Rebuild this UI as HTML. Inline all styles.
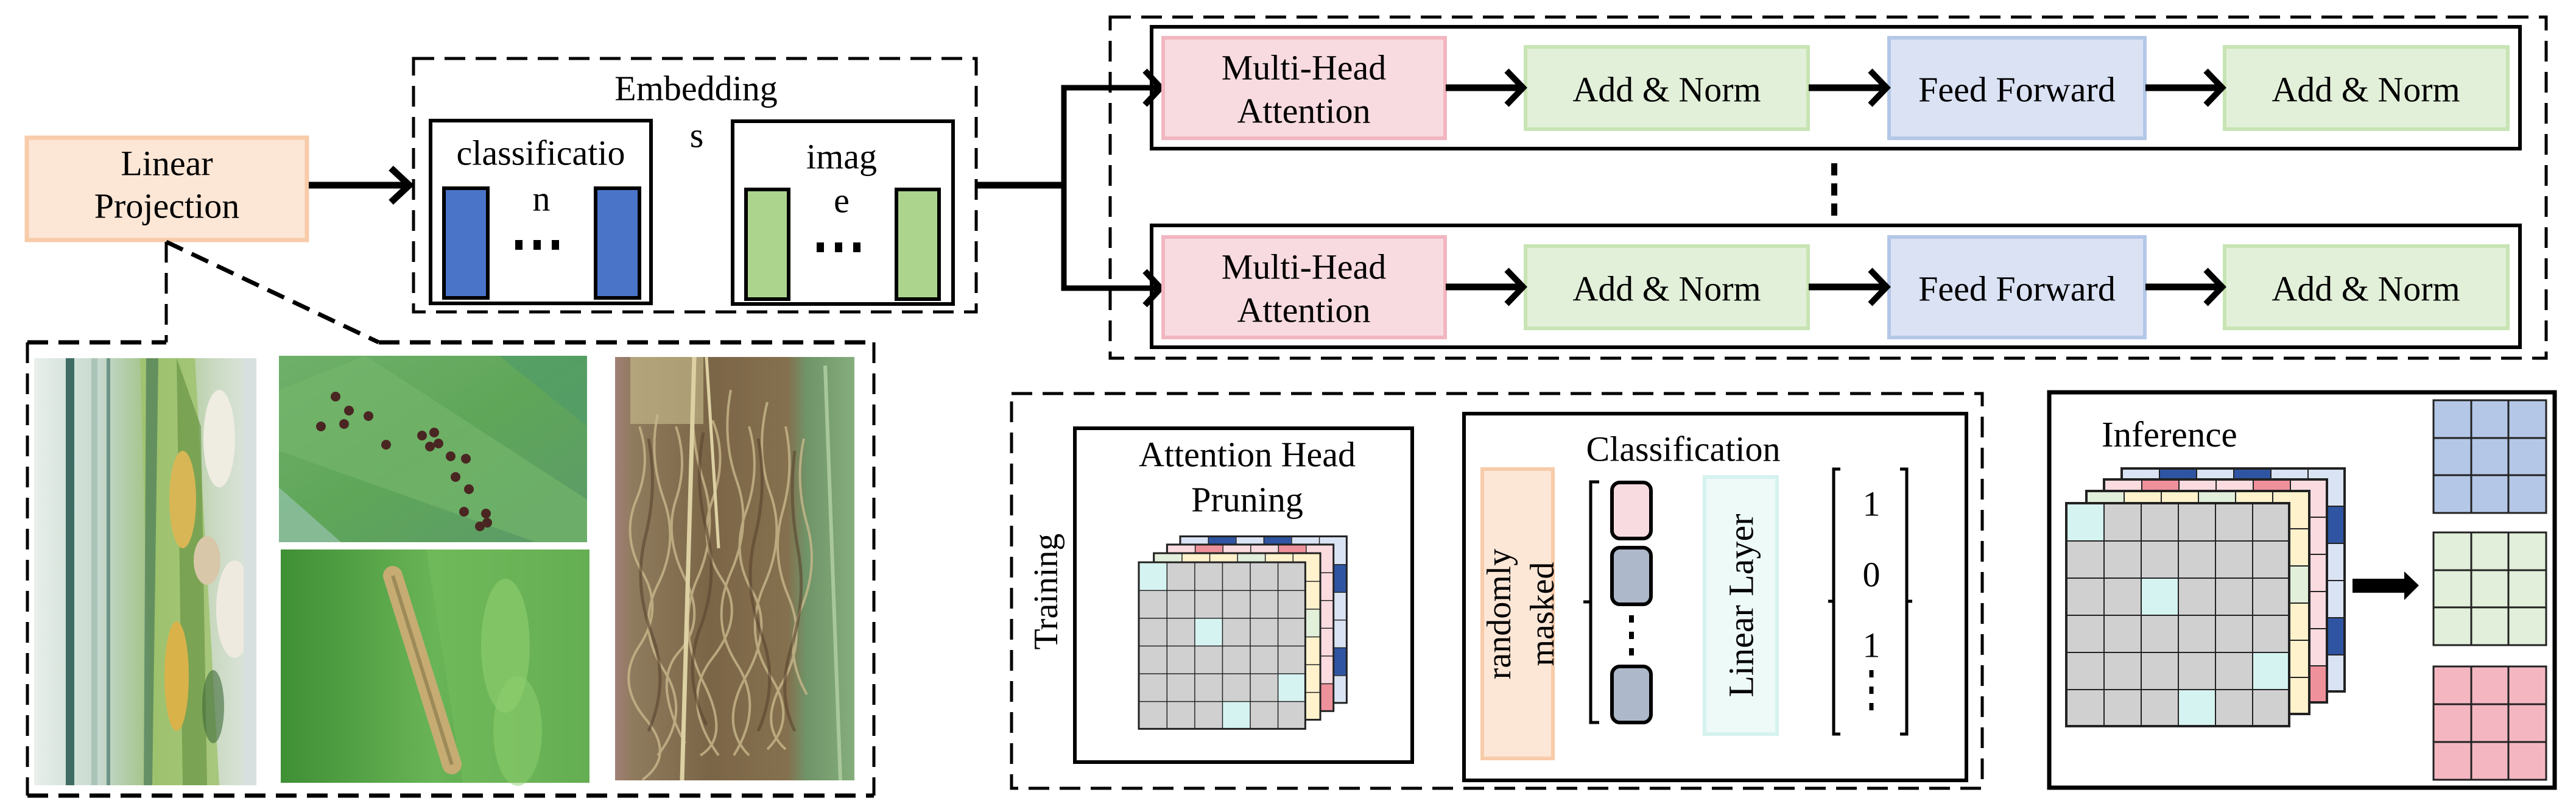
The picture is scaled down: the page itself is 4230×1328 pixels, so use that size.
<!DOCTYPE html>
<html><head><meta charset="utf-8"><style>
html,body{margin:0;padding:0;background:#fff;}
svg{display:block;}
text{font-family:"Liberation Serif",serif;fill:#000;}
</style></head><body>
<svg width="4230" height="1328" viewBox="0 0 4230 1328" xmlns="http://www.w3.org/2000/svg">
<defs>
<pattern id="g61" width="61" height="61" patternUnits="userSpaceOnUse">
<path d="M0 0 H61 M0 0 V61" stroke="#222" stroke-width="4" fill="none"/>
</pattern>
<linearGradient id="p1" x1="0" x2="1" y1="0" y2="0">
<stop offset="0" stop-color="#e9efeb"/><stop offset="0.3" stop-color="#c5d8cd"/><stop offset="0.55" stop-color="#9cc07a"/><stop offset="0.8" stop-color="#c9d9c0"/><stop offset="1" stop-color="#dfe6e2"/>
</linearGradient>
<linearGradient id="p2" x1="0" x2="1" y1="0" y2="1">
<stop offset="0" stop-color="#6fb06a"/><stop offset="0.5" stop-color="#5fa659"/><stop offset="1" stop-color="#5b9a6a"/>
</linearGradient>
<linearGradient id="p3" x1="0" x2="1" y1="0" y2="0">
<stop offset="0" stop-color="#3f8f35"/><stop offset="0.5" stop-color="#69b456"/><stop offset="1" stop-color="#4e9a44"/>
</linearGradient>
<linearGradient id="p4" x1="0" x2="1" y1="0" y2="0">
<stop offset="0" stop-color="#a08076"/><stop offset="0.08" stop-color="#8e7a5c"/><stop offset="0.4" stop-color="#7b6547"/><stop offset="0.72" stop-color="#85704e"/><stop offset="0.8" stop-color="#6f9468"/><stop offset="1" stop-color="#86ad7c"/>
</linearGradient>

<g id="stack">
  <g transform="translate(91,-57)">
    <rect width="366" height="366" fill="#dae3f3"/>
    <rect x="61" y="0" width="61" height="61" fill="#2f55a2"/>
    <rect x="183" y="0" width="61" height="61" fill="#2f55a2"/>
    <rect x="305" y="61" width="61" height="61" fill="#2f55a2"/>
    <rect x="305" y="244" width="61" height="61" fill="#2f55a2"/>
    <rect width="366" height="366" fill="url(#g61)" stroke="#222" stroke-width="4"/>
  </g>
  <g transform="translate(62,-39)">
    <rect width="366" height="366" fill="#fadbe0"/>
    <rect x="61" y="0" width="61" height="61" fill="#ef919b"/>
    <rect x="244" y="0" width="61" height="61" fill="#ef919b"/>
    <rect x="305" y="305" width="61" height="61" fill="#ef919b"/>
    <rect width="366" height="366" fill="url(#g61)" stroke="#222" stroke-width="4"/>
  </g>
  <g transform="translate(33,-20)">
    <rect width="366" height="366" fill="#fff2cc"/>
    <rect x="0" y="0" width="61" height="61" fill="#e2efda"/>
    <rect x="183" y="0" width="61" height="61" fill="#e2efda"/>
    <rect x="305" y="122" width="61" height="61" fill="#e2efda"/>
    <rect width="366" height="366" fill="url(#g61)" stroke="#222" stroke-width="4"/>
  </g>
  <g>
    <rect width="366" height="366" fill="#d0d0d0"/>
    <rect x="0" y="0" width="61" height="61" fill="#d5f3f1"/>
    <rect x="122" y="122" width="61" height="61" fill="#d5f3f1"/>
    <rect x="305" y="244" width="61" height="61" fill="#d5f3f1"/>
    <rect x="183" y="305" width="61" height="61" fill="#d5f3f1"/>
    <rect width="366" height="366" fill="url(#g61)" stroke="#222" stroke-width="4"/>
  </g>
</g>
</defs>

<!-- Linear Projection -->
<rect x="44" y="226" width="460" height="168" fill="#fce6d6" stroke="#f8cba9" stroke-width="7"/>
<text x="274" y="268" font-size="58" text-anchor="middle" dominant-baseline="central">Linear</text>
<text x="274" y="338" font-size="58" text-anchor="middle" dominant-baseline="central">Projection</text>
<line x1="507" y1="304" x2="670" y2="304" stroke="#000" stroke-width="11"/>
<polyline points="642,276 672,304 642,332" fill="none" stroke="#000" stroke-width="11"/>

<!-- Embedding -->
<rect x="679" y="96" width="924" height="416" fill="none" stroke="#000" stroke-width="5" stroke-dasharray="34 17"/>
<text x="1143" y="145" font-size="58" text-anchor="middle" dominant-baseline="central">Embedding</text>
<text x="1144" y="222" font-size="58" text-anchor="middle" dominant-baseline="central">s</text>
<rect x="707" y="198" width="362" height="300" fill="#fff" stroke="#000" stroke-width="6"/>
<text x="888" y="251" font-size="58" text-anchor="middle" dominant-baseline="central">classificatio</text>
<text x="889" y="326" font-size="58" text-anchor="middle" dominant-baseline="central">n</text>
<rect x="729" y="309" width="72" height="180" fill="#4a74c8" stroke="#000" stroke-width="6"/>
<rect x="978" y="309" width="72" height="180" fill="#4a74c8" stroke="#000" stroke-width="6"/>
<rect x="846" y="394" width="12" height="16" fill="#000"/><rect x="876" y="394" width="12" height="16" fill="#000"/><rect x="906" y="394" width="12" height="16" fill="#000"/>
<rect x="1203" y="199" width="362" height="300" fill="#fff" stroke="#000" stroke-width="6"/>
<text x="1382" y="257" font-size="58" text-anchor="middle" dominant-baseline="central">imag</text>
<text x="1382" y="329" font-size="58" text-anchor="middle" dominant-baseline="central">e</text>
<rect x="1225" y="311" width="70" height="180" fill="#acd48c" stroke="#000" stroke-width="6"/>
<rect x="1472" y="311" width="70" height="180" fill="#acd48c" stroke="#000" stroke-width="6"/>
<rect x="1341" y="398" width="12" height="16" fill="#000"/><rect x="1371" y="398" width="12" height="16" fill="#000"/><rect x="1401" y="398" width="12" height="16" fill="#000"/>

<!-- branch -->
<polyline points="1604,304 1747,304" fill="none" stroke="#000" stroke-width="11"/>
<polyline points="1900,144 1747,144 1747,473 1900,473" fill="none" stroke="#000" stroke-width="9"/>
<polyline points="1880,116 1906,144 1880,172" fill="none" stroke="#000" stroke-width="10"/>
<polyline points="1880,445 1906,473 1880,501" fill="none" stroke="#000" stroke-width="10"/>

<!-- Transformer blocks -->
<rect x="1823" y="28" width="2358" height="560" fill="none" stroke="#000" stroke-width="5" stroke-dasharray="34 17"/>
<rect x="1891" y="44" width="2247" height="200" fill="none" stroke="#000" stroke-width="6"/>
<rect x="1891" y="370" width="2247" height="200" fill="none" stroke="#000" stroke-width="6"/>
<g id="row1">
<rect x="1910" y="62" width="463" height="165" fill="#f8dbe0" stroke="#f2b6c0" stroke-width="6"/>
<text x="2141" y="111" font-size="58" text-anchor="middle" dominant-baseline="central">Multi-Head</text>
<text x="2141" y="182" font-size="58" text-anchor="middle" dominant-baseline="central">Attention</text>
<rect x="2505" y="77" width="464" height="135" fill="#e2f0d9" stroke="#c8e4b4" stroke-width="6"/>
<text x="2737" y="147" font-size="58" text-anchor="middle" dominant-baseline="central">Add &amp; Norm</text>
<rect x="3102" y="62" width="420" height="165" fill="#dae2f4" stroke="#b4c7e7" stroke-width="6"/>
<text x="3312" y="147" font-size="58" text-anchor="middle" dominant-baseline="central">Feed Forward</text>
<rect x="3653" y="77" width="465" height="135" fill="#e2f0d9" stroke="#c8e4b4" stroke-width="6"/>
<text x="3885" y="147" font-size="58" text-anchor="middle" dominant-baseline="central">Add &amp; Norm</text>
<line x1="2374" y1="144" x2="2498" y2="144" stroke="#000" stroke-width="11"/>
<polyline points="2474,116 2501,144 2474,172" fill="none" stroke="#000" stroke-width="10"/>
<line x1="2970" y1="144" x2="3095" y2="144" stroke="#000" stroke-width="11"/>
<polyline points="3071,116 3098,144 3071,172" fill="none" stroke="#000" stroke-width="10"/>
<line x1="3523" y1="144" x2="3646" y2="144" stroke="#000" stroke-width="11"/>
<polyline points="3622,116 3649,144 3622,172" fill="none" stroke="#000" stroke-width="10"/>
</g>
<use href="#row1" transform="translate(0,327)"/>
<line x1="3012" y1="268" x2="3012" y2="356" stroke="#000" stroke-width="10" stroke-dasharray="20 13"/>

<!-- Photos -->
<line x1="273" y1="397" x2="273" y2="562" stroke="#000" stroke-width="5" stroke-dasharray="34 17"/>
<line x1="273" y1="397" x2="622" y2="562" stroke="#000" stroke-width="7" stroke-dasharray="30 16"/>
<line x1="45" y1="562" x2="273" y2="562" stroke="#000" stroke-width="7" stroke-dasharray="34 17"/>
<line x1="622" y1="562" x2="1435" y2="562" stroke="#000" stroke-width="7" stroke-dasharray="34 17"/>
<line x1="45" y1="562" x2="45" y2="1306" stroke="#000" stroke-width="5" stroke-dasharray="34 17"/>
<line x1="1435" y1="562" x2="1435" y2="1306" stroke="#000" stroke-width="5" stroke-dasharray="34 17"/>
<line x1="45" y1="1306" x2="1435" y2="1306" stroke="#000" stroke-width="7" stroke-dasharray="34 17"/>

<g>
<rect x="56" y="588" width="365" height="701" fill="url(#p1)"/>
<rect x="108" y="588" width="14" height="701" fill="#3f6d64"/>
<rect x="150" y="588" width="10" height="701" fill="#aac5b7"/>
<rect x="175" y="588" width="6" height="701" fill="#6d9486"/>
<polygon points="230,588 320,588 360,1289 250,1289" fill="#9dc26a" opacity="0.8"/>
<polygon points="290,588 330,700 340,1289 300,1289" fill="#5f8d3c" opacity="0.6"/>
<polygon points="240,588 260,588 250,1289 236,1289" fill="#4c7a58" opacity="0.7"/>
<ellipse cx="300" cy="820" rx="22" ry="80" fill="#d8b655"/>
<ellipse cx="290" cy="1110" rx="20" ry="90" fill="#d9b24a"/>
<ellipse cx="360" cy="720" rx="26" ry="80" fill="#efece2"/>
<ellipse cx="385" cy="1000" rx="30" ry="80" fill="#efeae0"/>
<ellipse cx="340" cy="920" rx="22" ry="40" fill="#d8c7a8"/>
<ellipse cx="350" cy="1160" rx="18" ry="60" fill="#3f6a3a" opacity="0.6"/>
<rect x="400" y="588" width="21" height="701" fill="#d8e0df"/>
</g>
<g>
<rect x="458" y="584" width="506" height="306" fill="url(#p2)"/>
<polygon points="458,640 600,584 964,820 964,890 880,890 458,740" fill="#73b56b" opacity="0.7"/>
<polygon points="458,800 560,890 458,890" fill="#8fbfa2" opacity="0.8"/>
<polygon points="820,584 964,584 964,700" fill="#4f9a6a" opacity="0.6"/>
<g fill="#4a2622">
<circle cx="551" cy="651" r="8"/><circle cx="573" cy="674" r="8"/><circle cx="605" cy="683" r="8"/>
<circle cx="565" cy="696" r="8"/><circle cx="527" cy="700" r="8"/><circle cx="634" cy="730" r="8"/>
<circle cx="693" cy="715" r="8"/><circle cx="713" cy="710" r="8"/><circle cx="720" cy="728" r="8"/>
<circle cx="706" cy="733" r="8"/><circle cx="740" cy="749" r="8"/><circle cx="765" cy="753" r="8"/>
<circle cx="748" cy="783" r="8"/><circle cx="770" cy="803" r="8"/><circle cx="762" cy="840" r="8"/>
<circle cx="798" cy="843" r="8"/><circle cx="788" cy="864" r="8"/><circle cx="800" cy="858" r="8"/>
</g>
</g>
<g>
<rect x="461" y="902" width="507" height="383" fill="url(#p3)"/>
<polygon points="700,902 968,902 968,1285 760,1285" fill="#74bd5d" opacity="0.6"/>
<ellipse cx="830" cy="1060" rx="40" ry="110" fill="#8fcf70" opacity="0.6"/>
<ellipse cx="850" cy="1200" rx="40" ry="90" fill="#8fcf70" opacity="0.5"/>
<line x1="645" y1="945" x2="742" y2="1255" stroke="#c6ac72" stroke-width="32" stroke-linecap="round"/>
<line x1="645" y1="945" x2="742" y2="1255" stroke="#9c8a58" stroke-width="6"/>
</g>
<g>
<rect x="1010" y="586" width="393" height="695" fill="url(#p4)"/>
<rect x="1035" y="586" width="120" height="110" fill="#cbbf91" opacity="0.6"/>
<g fill="none" stroke="#c9b88c" stroke-width="4" opacity="0.8">
<path d="M1050 700 q20 60 -5 120 t10 120 t-5 120 t10 120 t-5 100"/>
<path d="M1080 680 q-15 70 10 140 t-10 140 t10 140 t-10 140"/>
<path d="M1110 700 q20 60 0 120 t15 130 t-10 120 t10 150"/>
<path d="M1140 620 q-10 90 15 170 t-10 160 t10 170 t-5 120"/>
<path d="M1170 690 q25 60 0 130 t15 130 t-15 130 t10 160"/>
<path d="M1200 640 q-15 80 10 150 t-10 150 t10 150 t-5 150"/>
<path d="M1230 700 q20 70 -5 140 t10 130 t-10 140 t5 130"/>
<path d="M1260 660 q-20 80 5 150 t-10 150 t10 150 t-5 120"/>
<path d="M1290 700 q15 70 -5 140 t10 140 t-10 140 t5 110"/>
<path d="M1320 720 q-15 70 5 140 t-10 140 t10 140"/>
</g>
<g fill="none" stroke="#5a4530" stroke-width="5" opacity="0.6">
<path d="M1065 720 q15 80 -5 160 t10 160 t-5 160"/>
<path d="M1155 710 q-15 80 5 160 t-10 160 t10 160"/>
<path d="M1245 720 q15 80 -5 160 t10 160 t-5 160"/>
<path d="M1305 740 q-10 80 5 160 t-10 160 t5 140"/>
</g>
<line x1="1140" y1="586" x2="1120" y2="1281" stroke="#ddd1a4" stroke-width="7"/>
<line x1="1160" y1="586" x2="1180" y2="900" stroke="#ddd1a4" stroke-width="5"/>
<line x1="1355" y1="600" x2="1380" y2="1281" stroke="#a9c89a" stroke-width="6"/>
</g>

<!-- Training -->
<rect x="1661" y="646" width="1594" height="648" fill="none" stroke="#000" stroke-width="5" stroke-dasharray="34 17"/>
<text x="1718" y="971" font-size="56" text-anchor="middle" dominant-baseline="central" transform="rotate(-90 1718 971)">Training</text>
<rect x="1765" y="703" width="554" height="548" fill="none" stroke="#000" stroke-width="6"/>
<text x="2048" y="746" font-size="58" text-anchor="middle" dominant-baseline="central">Attention Head</text>
<text x="2048" y="820" font-size="58" text-anchor="middle" dominant-baseline="central">Pruning</text>
<use href="#stack" transform="translate(1870,923) scale(0.747)"/>

<rect x="2404" y="679" width="825" height="602" fill="none" stroke="#000" stroke-width="6"/>
<text x="2764" y="737" font-size="58" text-anchor="middle" dominant-baseline="central">Classification</text>
<rect x="2434" y="770" width="116" height="475" fill="#fce6d6" stroke="#f8cba9" stroke-width="6"/>
<text x="2462" y="1008" font-size="56" text-anchor="middle" dominant-baseline="central" transform="rotate(-90 2462 1008)">randomly</text>
<text x="2533" y="1008" font-size="56" text-anchor="middle" dominant-baseline="central" transform="rotate(-90 2533 1008)">masked</text>
<path d="M2626 791 H2612 V1186 H2626 M2600 988 H2612" fill="none" stroke="#000" stroke-width="5"/>
<rect x="2647" y="792" width="64" height="92" rx="13" fill="#f8dbe0" stroke="#000" stroke-width="6"/>
<rect x="2647" y="899" width="64" height="93" rx="13" fill="#adb9ca" stroke="#000" stroke-width="6"/>
<line x1="2679" y1="1010" x2="2679" y2="1076" stroke="#000" stroke-width="8" stroke-dasharray="12 15"/>
<rect x="2647" y="1094" width="64" height="92" rx="13" fill="#adb9ca" stroke="#000" stroke-width="6"/>
<rect x="2799" y="783" width="119" height="422" fill="#eefaf8" stroke="#d5f2ee" stroke-width="6"/>
<text x="2859" y="994" font-size="58" text-anchor="middle" dominant-baseline="central" transform="rotate(-90 2859 994)">Linear Layer</text>
<path d="M3022 770 H3011 V1205 H3022 M3002 987 H3011" fill="none" stroke="#000" stroke-width="5"/>
<path d="M3120 770 H3131 V1205 H3120 M3140 987 H3131" fill="none" stroke="#000" stroke-width="5"/>
<text x="3073" y="827" font-size="58" text-anchor="middle" dominant-baseline="central">1</text>
<text x="3073" y="943" font-size="58" text-anchor="middle" dominant-baseline="central">0</text>
<text x="3073" y="1059" font-size="58" text-anchor="middle" dominant-baseline="central">1</text>
<line x1="3073" y1="1100" x2="3073" y2="1180" stroke="#000" stroke-width="7" stroke-dasharray="12 15"/>

<!-- Inference -->
<rect x="3365" y="644" width="830" height="649" fill="none" stroke="#000" stroke-width="7"/>
<text x="3451" y="713" font-size="59" dominant-baseline="central">Inference</text>
<use href="#stack" transform="translate(3393,826)"/>
<rect x="3863" y="950" width="87" height="23" fill="#000"/>
<polygon points="3948,938 3972,961 3948,985" fill="#000"/>
<g stroke="#222" stroke-width="3">
<rect x="3996" y="657" width="185" height="185" fill="#b4c7e7"/>
<path d="M4058 657 V842 M4119 657 V842 M3996 719 H4181 M3996 780 H4181"/>
<rect x="3996" y="874" width="185" height="185" fill="#e2efda"/>
<path d="M4058 874 V1059 M4119 874 V1059 M3996 936 H4181 M3996 997 H4181"/>
<rect x="3996" y="1094" width="185" height="186" fill="#f4b7c1"/>
<path d="M4058 1094 V1280 M4119 1094 V1280 M3996 1156 H4181 M3996 1218 H4181"/>
</g>
</svg>
</body></html>
